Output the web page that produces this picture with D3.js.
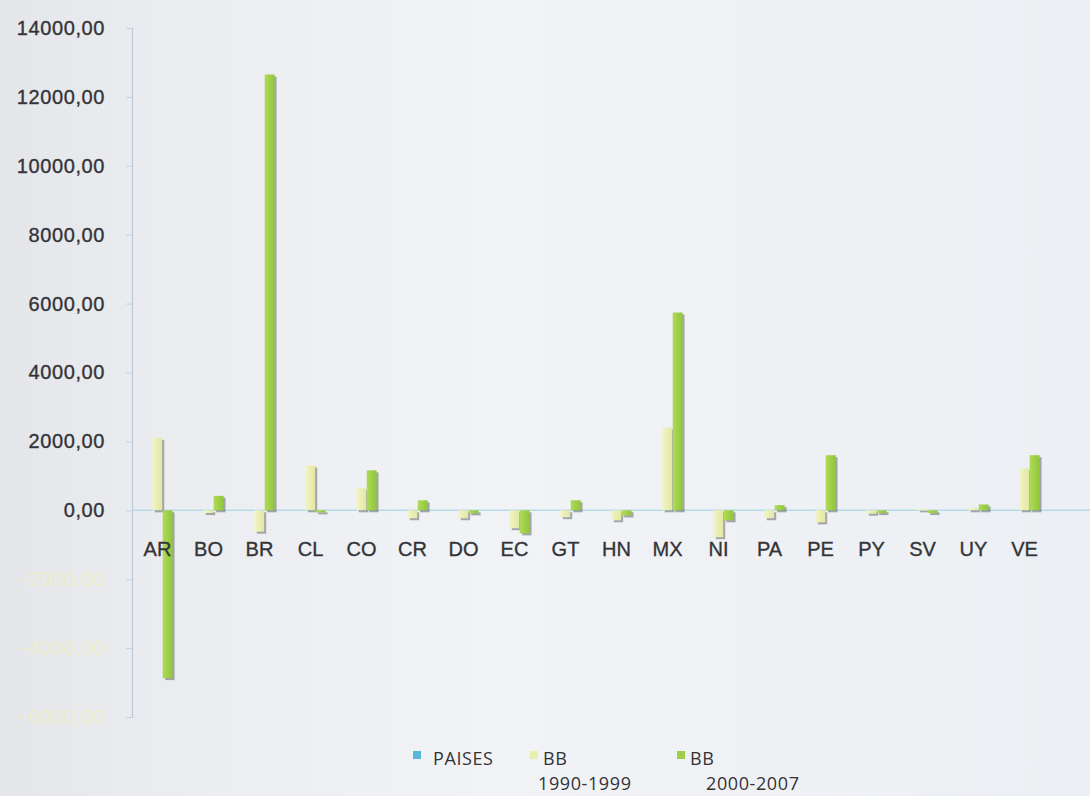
<!DOCTYPE html>
<html>
<head>
<meta charset="utf-8">
<script src="https://cdn.jsdelivr.net/npm/d3@7"></script>
<style>
  html, body { margin: 0; padding: 0; background: #eef0f4; }
  svg { display: block; font-family: "Open Sans", "Lato", sans-serif; }
</style>
</head>
<body>
<svg id="chart" width="1090" height="796"></svg>
<script>
// ---- data ----
const categories = ["AR","BO","BR","CL","CO","CR","DO","EC","GT","HN","MX","NI","PA","PE","PY","SV","UY","VE"];
const paises  = [0,0,0,0,0,0,0,0,0,0,0,0,0,0,0,0,0,0];
const bb1990  = [2100, -80, -620, 1300, 640, -230, -230, -520, -200, -290, 2400, -780, -230, -350, -100, 40, 60, 1220];
const bb2000  = [-4870, 420, 12650, -60, 1160, 290, -90, -670, 290, -150, 5740, -290, 150, 1600, -80, -80, 170, 1600];
const seriesNames = ["PAISES", "BB 1990-1999", "BB 2000-2007"];
const legendLines = [["PAISES"], ["BB", "1990-1999"], ["BB", "2000-2007"]];
const yTicks = [-6000, -4000, -2000, 0, 2000, 4000, 6000, 8000, 10000, 12000, 14000];

const seriesValues = [paises, bb1990, bb2000];
const colors = ["#5bb6de", "#eaeeae", "#9ecf48"];

const svg = d3.select("#chart");
const W = 1090, H = 796;

// background (photographed paper)
const defs = svg.append("defs");
const g1 = defs.append("linearGradient").attr("id", "bg").attr("x1", 0).attr("x2", 1).attr("y1", 0).attr("y2", 0);
g1.append("stop").attr("offset", "0%").attr("stop-color", "#e4e6ea");
g1.append("stop").attr("offset", "14%").attr("stop-color", "#eaecf0");
g1.append("stop").attr("offset", "45%").attr("stop-color", "#f1f3f6");
g1.append("stop").attr("offset", "100%").attr("stop-color", "#eceff3");
svg.append("rect").attr("width", W).attr("height", H).attr("fill", "url(#bg)");

const g2 = defs.append("linearGradient").attr("id", "pale").attr("x1", 0).attr("x2", 1);
g2.append("stop").attr("offset", "0%").attr("stop-color", "#f2f4c6");
g2.append("stop").attr("offset", "100%").attr("stop-color", "#e2e8a2");
const g3 = defs.append("linearGradient").attr("id", "green").attr("x1", 0).attr("x2", 1);
g3.append("stop").attr("offset", "0%").attr("stop-color", "#b0da58");
g3.append("stop").attr("offset", "100%").attr("stop-color", "#90c63a");
const fills = ["#5bb6de", "url(#pale)", "url(#green)"];

// scales
const y = d3.scaleLinear().domain([-6000, 14000]).range([717, 28]);
const x0 = d3.scaleBand().domain(categories).range([132, 1050]).paddingInner(0.39).paddingOuter(0.195);
const x1 = d3.scaleBand().domain(d3.range(seriesValues.length)).range([0, x0.bandwidth()]).padding(0);

const loc = d3.formatLocale({decimal: ",", thousands: "", grouping: [3], currency: ["", ""]});
const fmt = loc.format(".2f");

// y axis
const yAxis = svg.append("g")
  .attr("transform", "translate(132,0)")
  .call(d3.axisLeft(y).tickValues(yTicks).tickFormat(fmt).tickSize(6).tickPadding(21));
yAxis.select(".domain").attr("stroke", "#b9cbd9").attr("stroke-width", 1.2);
yAxis.selectAll(".tick line").attr("stroke", "#c8d2dc");
yAxis.selectAll(".tick text")
  .attr("font-size", 20)
  .attr("letter-spacing", "0.6px")
  .attr("stroke", d => d < 0 ? "none" : "#38383c")
  .attr("stroke-width", 0.35)
  .attr("fill", d => d < 0 ? "#eeedcc" : "#333337");

// zero line
svg.append("line")
  .attr("x1", 132).attr("x2", 1090)
  .attr("y1", y(0)).attr("y2", y(0))
  .attr("stroke", "#b6dbe8").attr("stroke-width", 1.5);

// bars
const rows = categories.map((c, i) => ({cat: c, vals: seriesValues.map(s => s[i])}));
const groups = svg.append("g").selectAll("g")
  .data(rows).join("g")
  .attr("transform", d => `translate(${x0(d.cat)},0)`);

const cells = groups.selectAll("g.cell")
  .data(d => d.vals.map((v, k) => ({v, k})))
  .join("g").attr("class", "cell");

// shadow
cells.filter(d => d.v !== 0).append("rect")
  .attr("x", d => x1(d.k) + 2.5)
  .attr("y", d => Math.min(y(d.v), y(0)) + 2)
  .attr("width", x1.bandwidth() - 1)
  .attr("height", d => Math.abs(y(d.v) - y(0)))
  .attr("fill", "#4a4a55").attr("opacity", 0.45);

cells.append("rect")
  .attr("x", d => x1(d.k))
  .attr("y", d => Math.min(y(d.v), y(0)))
  .attr("width", x1.bandwidth() - 0.5)
  .attr("height", d => Math.abs(y(d.v) - y(0)))
  .attr("fill", d => fills[d.k]);

// x axis labels
const xAxis = svg.append("g")
  .attr("transform", `translate(0,${y(0)})`)
  .call(d3.axisBottom(x0).tickSize(0).tickPadding(32));
xAxis.select(".domain").remove();
xAxis.selectAll(".tick text")
  .attr("font-size", 20)
  .attr("stroke", "#38383c")
  .attr("stroke-width", 0.35)
  .attr("fill", "#333337");

// legend
const legendPos = [
  {mx: 413, tx: 433, tx2: 433},
  {mx: 530, tx: 543, tx2: 538},
  {mx: 677, tx: 690, tx2: 706}
];
const leg = svg.append("g");
legendLines.forEach((lines, i) => {
  const p = legendPos[i];
  leg.append("rect")
    .attr("x", p.mx).attr("y", 751).attr("width", 8).attr("height", 8)
    .attr("fill", colors[i]);
  lines.forEach((t, j) => {
    leg.append("text")
      .attr("x", j === 0 ? p.tx : p.tx2)
      .attr("y", 765 + j * 25)
      .attr("font-size", 18)
      .attr("letter-spacing", "0.6px")
      .attr("fill", "#333337")
      .text(t);
  });
});
</script>
</body>
</html>
